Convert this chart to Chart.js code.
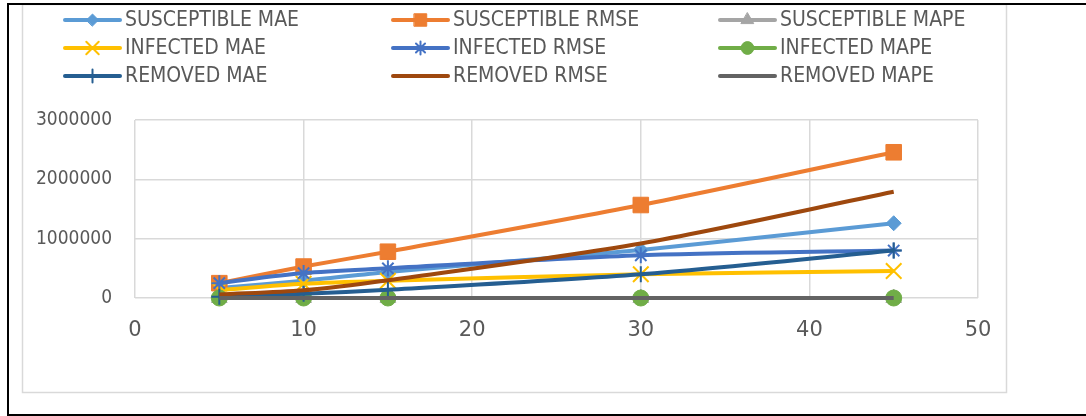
<!DOCTYPE html>
<html>
<head>
<meta charset="utf-8">
<script src="https://cdn.jsdelivr.net/npm/chart.js@4.4.1/dist/chart.umd.min.js"></script>
<style>
  html, body { margin: 0; padding: 0; background: #ffffff; }
  #wrap { width: 1086px; height: 416px; position: relative; }
</style>
</head>
<body>
<div id="wrap"><canvas id="c" width="1086" height="416"></canvas></div>
<script>
// Forecast window (days) on the x axis
const windows = [5, 10, 15, 30, 45];

// Error metrics per compartment
const susceptibleMAE  = [170000, 290000, 440000, 810000, 1260000];
const susceptibleRMSE = [250000, 530000, 780000, 1567000, 2456000];
const susceptibleMAPE = [0, 0, 0, 0, 0];
const infectedMAE     = [135000, 240000, 290000, 400000, 455000];
const infectedRMSE    = [250000, 420000, 500000, 720000, 800000];
const infectedMAPE    = [0, 0, 0, 0, 0];
const removedMAE      = [20000, 70000, 140000, 400000, 800000];
const removedRMSE     = [60000, 130000, 300000, 920000, 1790000];
const removedMAPE     = [0, 0, 0, 0, 0];

// Axis tick labels
const xTickLabels = ['0', '10', '20', '30', '40', '50'];
const yTickLabels = ['0', '1000000', '2000000', '3000000'];

const seriesNames = [
  'SUSCEPTIBLE MAE', 'SUSCEPTIBLE RMSE', 'SUSCEPTIBLE MAPE',
  'INFECTED MAE', 'INFECTED RMSE', 'INFECTED MAPE',
  'REMOVED MAE', 'REMOVED RMSE', 'REMOVED MAPE'
];
const seriesValues = [
  susceptibleMAE, susceptibleRMSE, susceptibleMAPE,
  infectedMAE, infectedRMSE, infectedMAPE,
  removedMAE, removedRMSE, removedMAPE
];

// Per-series look: colour, marker shape, marker radius, marker outline width
const styles = [
  { color: '#5B9BD5', shape: 'rectRot',  r: 7.5, bw: 1 },
  { color: '#ED7D31', shape: 'rect',     r: 11,  bw: 1 },
  { color: '#A5A5A5', shape: 'triangle', r: 9,   bw: 1 },
  { color: '#FFC000', shape: 'crossRot', r: 11,  bw: 2 },
  { color: '#4472C4', shape: 'star',     r: 8,   bw: 2 },
  { color: '#70AD47', shape: 'circle',   r: 8,   bw: 1 },
  { color: '#255E91', shape: 'cross',    r: 8,   bw: 2 },
  { color: '#9E480E', shape: false,      r: 0,   bw: 0 },
  { color: '#636363', shape: false,      r: 0,   bw: 0 }
];

const TEXT = '#595959';
const GRID = '#d9d9d9';
const CONDENSED = '"DejaVu Sans Condensed", "Liberation Sans Narrow", "Liberation Sans", sans-serif';
const WIDE = '"DejaVu Sans", "Liberation Sans", sans-serif';

const datasets = seriesNames.map((name, i) => ({
  label: name,
  data: windows.map((x, k) => ({ x: x, y: seriesValues[i][k] })),
  borderColor: styles[i].color,
  backgroundColor: styles[i].color,
  borderWidth: 4,
  tension: 0.3,
  pointStyle: styles[i].shape,
  pointRadius: styles[i].r,
  pointHoverRadius: styles[i].r,
  pointBorderWidth: styles[i].bw,
  pointBorderColor: styles[i].color,
  pointBackgroundColor: styles[i].color,
  // later series are painted over earlier ones
  order: seriesNames.length - i,
  clip: false
}));

// Three-column legend with a line sample and marker for each series
const gridLegend = {
  id: 'gridLegend',
  afterDraw(chart) {
    const ctx = chart.ctx;
    const colLine = [65, 393, 720];
    const rowY = [20, 48, 76];
    const lineLen = 55;
    ctx.save();
    chart.data.datasets.forEach((ds, i) => {
      const col = i % 3, row = Math.floor(i / 3);
      const x0 = colLine[col], y = rowY[row];
      ctx.strokeStyle = ds.borderColor;
      ctx.lineWidth = 4;
      ctx.lineCap = 'round';
      ctx.beginPath();
      ctx.moveTo(x0, y);
      ctx.lineTo(x0 + lineLen, y);
      ctx.stroke();
      if (ds.pointStyle && Chart.helpers && Chart.helpers.drawPoint) {
        ctx.fillStyle = ds.pointBackgroundColor;
        ctx.strokeStyle = ds.pointBorderColor;
        ctx.lineWidth = ds.pointBorderWidth;
        Chart.helpers.drawPoint(ctx, {
          pointStyle: ds.pointStyle,
          rotation: 0,
          radius: ds.pointRadius * 0.8,
          borderWidth: ds.pointBorderWidth
        }, x0 + lineLen / 2, y);
      }
      ctx.fillStyle = TEXT;
      ctx.font = '21px ' + CONDENSED;
      ctx.textAlign = 'left';
      ctx.textBaseline = 'middle';
      ctx.fillText(ds.label, x0 + lineLen + 5, y + 1);
    });
    ctx.restore();
  }
};

// Frame lines around the chart
const frame = {
  id: 'frame',
  afterDraw(chart) {
    const ctx = chart.ctx;
    ctx.save();
    ctx.strokeStyle = GRID;
    ctx.lineWidth = 1.5;
    ctx.strokeRect(22.5, 4.5, 984, 388);
    ctx.strokeStyle = '#000000';
    ctx.lineWidth = 2;
    ctx.beginPath();
    ctx.moveTo(8, 4);
    ctx.lineTo(1086, 4);
    ctx.moveTo(8, 3);
    ctx.lineTo(8, 415);
    ctx.lineTo(1086, 415);
    ctx.stroke();
    ctx.restore();
  }
};

new Chart(document.getElementById('c'), {
  type: 'line',
  data: { datasets: datasets },
  plugins: [gridLegend, frame],
  options: {
    responsive: false,
    animation: false,
    layout: { padding: { left: 23, top: 120, right: 108, bottom: 24 } },
    plugins: {
      legend: { display: false },
      tooltip: { enabled: false }
    },
    scales: {
      x: {
        type: 'linear',
        min: 0,
        max: 50,
        ticks: {
          stepSize: 10,
          padding: 20,
          color: TEXT,
          font: { family: WIDE, size: 21 },
          callback: (v, i) => xTickLabels[i]
        },
        grid: { color: GRID, lineWidth: 1.5, drawTicks: false },
        border: { display: false },
        afterFit: (s) => { s.height = 94; }
      },
      y: {
        min: 0,
        max: 3000000,
        ticks: {
          stepSize: 1000000,
          padding: 23,
          color: TEXT,
          font: { family: CONDENSED, size: 19 },
          callback: (v, i) => yTickLabels[i]
        },
        grid: { color: GRID, lineWidth: 1.5, drawTicks: false },
        border: { display: false },
        afterFit: (s) => { s.width = 112; }
      }
    }
  }
});
</script>
</body>
</html>
